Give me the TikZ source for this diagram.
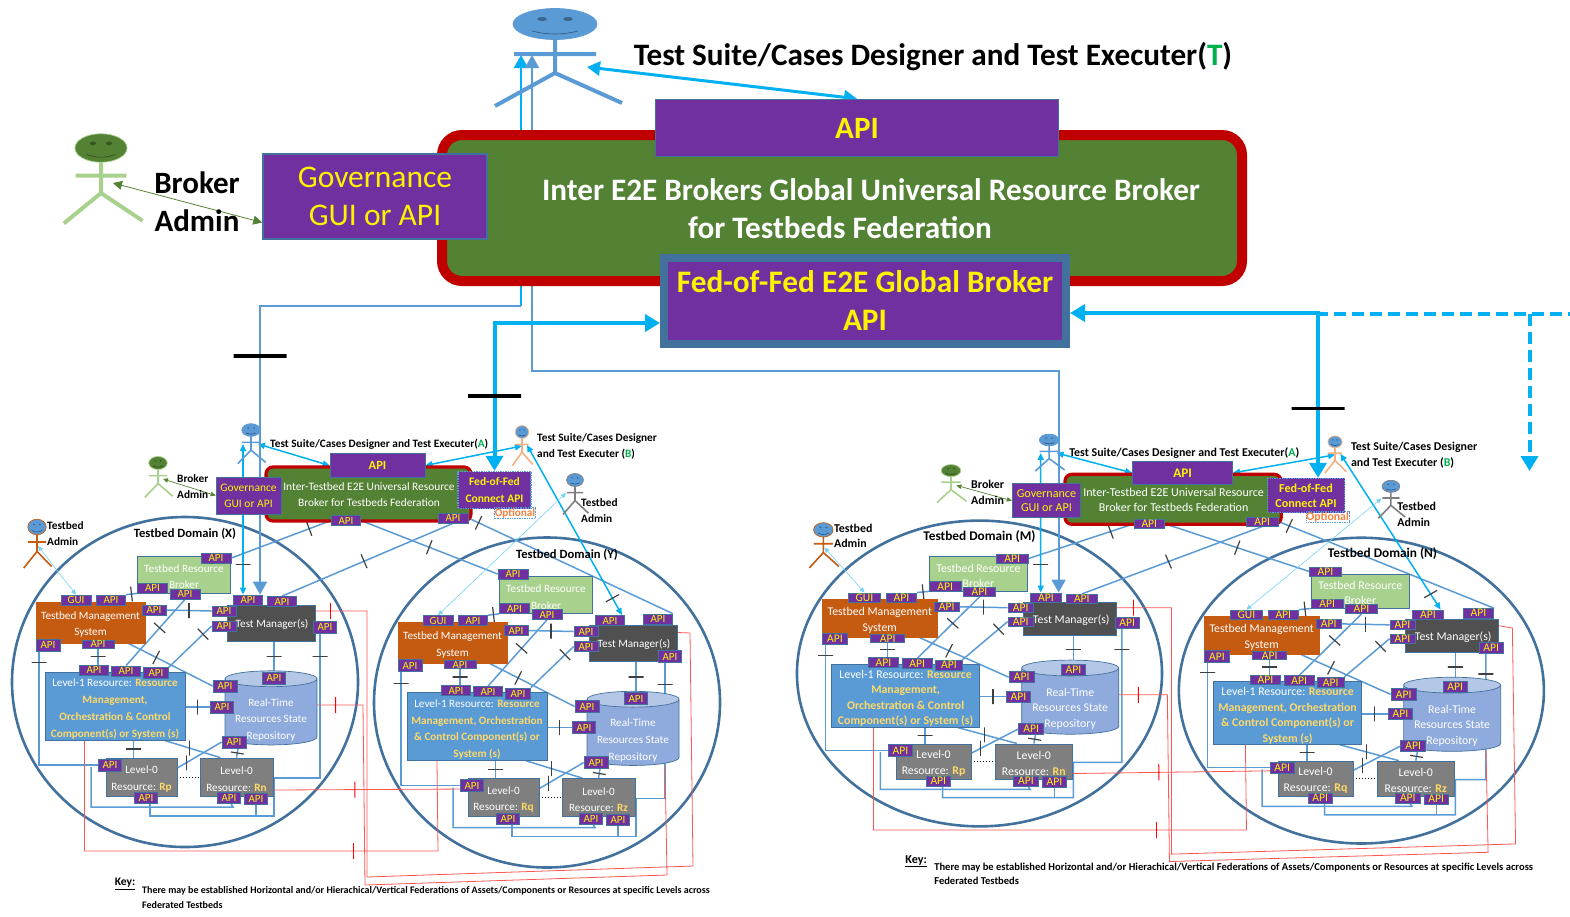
\documentclass[tikz,border=0pt]{standalone}
\usepackage{fontspec}
\setmainfont{Carlito}
\usetikzlibrary{arrows.meta,shapes.geometric}
\pgfdeclarelayer{back}
\pgfsetlayers{back,main}
\definecolor{apipurple}{HTML}{7030A0}
\definecolor{apiedge}{HTML}{41719C}
\definecolor{hostgreen}{HTML}{548235}
\definecolor{hostred}{HTML}{C00000}
\definecolor{feedcyan}{HTML}{00B0F0}
\definecolor{linkblue}{HTML}{5B9BD5}
\definecolor{fedred}{HTML}{FF5555}
\definecolor{tmsorange}{HTML}{C55A11}
\definecolor{tmgrey}{HTML}{505050}
\definecolor{resgrey}{HTML}{7F7F7F}
\definecolor{palegreen}{HTML}{A9D18E}
\definecolor{repobody}{HTML}{8FAADC}
\definecolor{repotop}{HTML}{B4C7E7}
\definecolor{gold}{HTML}{FFD966}
\definecolor{skinorange}{HTML}{F4B183}
\definecolor{markgreen}{HTML}{00B050}
\definecolor{optorange}{HTML}{F4813C}
\def\gx{1}
\def\gy{1}
\newcommand{\sz}[2]{\pgfmathsetmacro\szw{#1*\gx}\pgfmathsetmacro\szh{#2*\gy}\fontsize{\szw}{\szh}\selectfont}
\newcommand{\goldbf}[1]{{\color{gold}\bfseries #1}}
\tikzset{
	tinytip/.tip={Triangle[width=4.5pt,length=5pt]},
	smalltip/.tip={Triangle[width=6pt,length=7pt]},
	greentip/.tip={Triangle[width=9pt,length=9pt]},
	midtip/.tip={Triangle[width=14pt,length=13pt]},
	bigtip/.tip={Triangle[width=17pt,length=15pt]},
	boxed/.style 2 args={rectangle,minimum width=#1pt*\gx,minimum height=#2pt*\gy,inner sep=0pt,align=center},
	tag/.style 2 args={boxed={#1}{#2},fill=apipurple,draw=apiedge,line width=.7pt,text=yellow,font=\sz{11}{12}},
	plain/.style 2 args={boxed={#1}{#2},draw=apiedge,line width=.7pt},
	words/.style={inner sep=0pt,align=center,text=black},
	inbox/.style={words,text=white,font=\sz{11.2}{16.7}},
	link/.style={draw=linkblue,line width=1.5pt},
	redlink/.style={draw=fedred,line width=.8pt},
	paletip/.style={draw=feedcyan!55,line width=.6pt,tinytip-tinytip},
	cyanlink/.style={draw=feedcyan,line width=1.5pt,smalltip-smalltip},
	feed/.style={draw=linkblue,line width=2pt},
	heavyfeed/.style={draw=feedcyan,line width=4pt},
	tick/.style={sloped,draw=black!75,line width=1.2pt,minimum width=0pt,minimum height=15pt,inner sep=0pt,outer sep=0pt},
	vtick/.style={draw=black!75,line width=1.2pt,minimum width=0pt,minimum height=15pt,inner sep=0pt,outer sep=0pt},
	redtick/.style={sloped,draw=red,line width=1pt,minimum width=0pt,minimum height=16pt,inner sep=0pt,outer sep=0pt},
	bigtick/.style={sloped,draw=black,line width=3.5pt,minimum width=0pt,minimum height=53pt,inner sep=0pt,outer sep=0pt},
}
% one stick figure, head at #2
\newcommand{\stickman}[7]{%
	\begin{scope}[shift={#2},xscale=#3,yscale=#4]
		\draw[fill=#5,draw=#6,line width=.7pt] (0,0) ellipse (42 and 15.5);
		\fill[#5!65!black] (-13,-5) ellipse (5 and 2) (13,-5) ellipse (5 and 2);
		\draw[draw=#5!55!black,line width=.6pt] (-23,7) .. controls (-8,11) and (8,11) .. (23,7);
		\draw[draw=#6,line width=#7] (0,15.5) -- (0,49) (-41,30) -- (41,30) (-60,82) -- (0,49) -- (67,79);
	\end{scope}}
% one testbed domain: prefix, shift, letter, two resources, level-1 wording
\newcommand{\testbed}[6]{%
	\begin{scope}[shift={#2}]
		\begin{pgfonlayer}{back}
			\draw[draw=apiedge,line width=2.6pt] (185,682) ellipse (173 and 165);
		\end{pgfonlayer}
		\node[words,font=\bfseries\sz{12.6}{16}] (#1dn) at (\domx,534) {Testbed Domain (#3)};
		\node[plain={93}{37},fill=palegreen] (#1br) at (184,574.5) {};
		\node[inbox] (#1brt) at (184,576.5) {Testbed Resource\\Broker};
		\node[plain={109}{41},fill=tmsorange,draw=tmsorange] (#1tms) at (90.5,622.5) {};
		\node[inbox] (#1tmst) at (90.5,624.5) {Testbed Management\\System};
		\node[plain={88}{36},fill=tmgrey,draw=apiedge] (#1tm) at (271,623) {};
		\node[inbox] (#1tmt) at (272,624) {Test Manager(s)};
		\node[plain={140}{68},fill=linkblue] (#1lv) at (115,706) {};
		\node[inbox] (#1lvt) at (115,709) {#6};
		\node[cylinder,shape border rotate=90,aspect=.22,minimum height=70pt*\gy,minimum width=92pt*\gx,inner sep=0pt,draw=apiedge,line width=.7pt,cylinder uses custom fill,cylinder body fill=repobody,cylinder end fill=repotop] (#1rp) at (271,712) {\phantom{\rule{72pt}{50pt}}};
		\node[inbox] (#1rpt) at (271,720) {Real-Time\\Resources State\\Repository};
		\node[plain={71}{38},fill=resgrey] (#1a) at (141.5,777) {};
		\node[inbox] (#1at) at (141.5,779) {Level-0\\Resource: \goldbf{#4}};
		\node[plain={73}{38},fill=resgrey] (#1z) at (236.5,777) {};
		\node[inbox] (#1zt) at (236.5,779) {Level-0\\Resource: \goldbf{#5}};
		\node[tag={30}{10}] (#1b1) at (\brokertag) {API};
		\node[tag={30}{10}] (#1b2) at (152.5,588) {API};
		\node[tag={30}{10}] (#1b3) at (185,594) {API};
		\node[tag={30}{10}] (#1g) at (76,600) {GUI};
		\node[tag={29}{10}] (#1s1) at (111,600) {API};
		\node[tag={24}{10}] (#1s2) at (154,610) {API};
		\node[tag={24}{12}] (#1s3) at (48,645) {API};
		\node[tag={32}{8}] (#1s4) at (98,644) {API};
		\node[tag={29}{10}] (#1m1) at (248,600) {API};
		\node[tag={29}{10}] (#1m2) at (\mgrtag) {API};
		\node[tag={24}{10}] (#1m3) at (224,611) {API};
		\node[tag={24}{10}] (#1m4) at (224,626) {API};
		\node[tag={23}{12}] (#1m5) at (\mgrside) {API};
		\node[tag={29}{10}] (#1l1) at (94,670) {API};
		\node[tag={29}{10}] (#1l2) at (126,671) {API};
		\node[tag={25}{11}] (#1l3) at (156,673) {API};
		\node[tag={24}{12}] (#1r1) at (225,686) {API};
		\node[tag={23}{12}] (#1r2) at (274,678) {API};
		\node[tag={23}{12}] (#1r3) at (222,707) {API};
		\node[tag={24}{12}] (#1r4) at (234,742) {API};
		\node[tag={23}{12}] (#1a1) at (110,765) {API};
		\node[tag={23}{11}] (#1a2) at (146,798) {API};
		\node[tag={23}{11}] (#1z1) at (229,798) {API};
		\node[tag={23}{11}] (#1z2) at (256,799) {API};
		\coordinate (#1j1) at (274,778);
		\coordinate (#1j2) at (150,816);
		\coordinate (#1j3) at (91,767);
		\coordinate (#1j4) at (233,807);
		\begin{pgfonlayer}{back}
			\draw[link] ([xshift=3.5pt]#1s3.south west) |- node[vtick,rotate=90,pos=.05] (#1k1) {} (#1a1.west);
			\draw[link] (#1s4.south) -- node[tick] (#1k2) {} (#1s4.south |- #1l1.north);
			\draw[link] (#1s2.east) -- node[vtick] (#1k3) {} (#1m3.west);
			\draw[link] (#1s1.north east) -- node[tick] (#1k4) {} (#1b2.south west);
			\draw[link] (#1b3.south) -- node[tick,pos=.43] (#1k5) {} (#1l2.north);
			\draw[link] (#1l3.north east) -- node[tick,pos=.8] (#1k6) {} (#1m4.west);
			\draw[link] ([xshift=-17pt]#1tms.south east) -- node[tick,pos=.33] (#1k7) {} (#1r1.west);
			\draw[link] (#1r2.north |- #1tm.south) -- node[tick] (#1k8) {} (#1r2.north);
			\draw[link] ([xshift=-5pt]#1m5.south) |- node[vtick,rotate=90,pos=.08] (#1k9) {} (#1j1) |- (#1j2) -- ([xshift=4pt]#1a2.south);
			\draw[link] (#1z2.south) -- (#1z2.south |- #1j2);
			\draw[link] (#1j3) |- (#1j4) -- ([xshift=2pt]#1z1.south);
			\draw[link] ([xshift=-8pt]#1a.north |- #1lv.south) -- node[tick] (#1k10) {} ([xshift=-8pt]#1a.north);
			\draw[link] (#1lv.east |- #1r3.west) -- node[vtick] (#1k11) {} (#1r3.west);
			\draw[link] ([xshift=-21pt]#1lv.south east) -- node[vtick,pos=.45] (#1k12) {} ([xshift=-16pt]#1z.north);
			\draw[link] ([yshift=9pt]#1a.east) -- node[vtick,pos=.2] (#1k13) {} (#1r4.west);
			\draw[link] (#1z.north) -- node[tick,minimum height=13pt] (#1k14) {} ([xshift=4pt]#1r4.south);
			\draw[dotted,line width=1pt] (#1a.east) -- (#1z.west);
		\end{pgfonlayer}
	\end{scope}}
% one federated pair of testbeds with its inter-testbed broker
\newcommand{\fedgroup}[8]{%
	\begin{scope}[shift={#3},xscale=#1,yscale=#2]
		\def\gx{#1}\def\gy{#2}
		\def\domx{185}\def\brokertag{216,558}\def\mgrtag{282,601.5}\def\mgrside{325,627}
		\testbed{#5}{(0,0)}{#7}{Rp}{Rn}{Level-1 Resource: \goldbf{Resource}\\\goldbf{Management,}\\\goldbf{Orchestration \& Control}\\\goldbf{Component(s) or System (s)}}
		\def\domx{205}\def\brokertag{151,553.5}\def\mgrtag{296,598.5}\def\mgrside{308,636}
		\testbed{#6}{(\rightshift)}{#8}{Rq}{Rz}{Level-1 Resource: \goldbf{Resource}\\\goldbf{Management, Orchestration}\\\goldbf{\& Control Component(s) or}\\\goldbf{System (s)}}
		\node[boxed={205}{54},rounded corners=7pt,fill=hostgreen,draw=hostred,line width=3.2pt] (#4ib) at (368.5,494) {};
		\node[words,text=white,font=\sz{11.4}{16.7}] (#4it) at (369,494.5) {Inter-Testbed E2E Universal Resource\\Broker for Testbeds Federation};
		\node[boxed={95}{24},fill=apipurple,draw=apiedge,line width=.7pt,text=yellow,font=\bfseries\sz{12.5}{15}] (#4tt) at (377.5,465.5) {API};
		\node[boxed={65}{37},fill=apipurple,draw=apiedge,line width=.7pt,text=yellow,font=\sz{11.5}{16}] (#4gv) at (248.5,495.5) {Governance\\GUI or API};
		\node[boxed={73}{37},fill=apipurple,draw=linkblue,densely dotted,line width=1.4pt,text=yellow,font=\bfseries\sz{11.5}{16.5}] (#4ff) at (494.5,490) {Fed-of-Fed\\Connect API};
		\node[boxed={40}{11},draw=linkblue,densely dotted,line width=.7pt,text=optorange,font=\bfseries\sz{11.2}{12}] (#4op) at (515,513) {Optional};
		\node[tag={29}{10}] (#4ia) at (346,520.5) {API};
		\node[tag={30}{10}] (#4ic) at (453,518) {API};
		\node[words,anchor=west,font=\bfseries\sz{11.3}{14}] (#4tsa) at (270,444) {Test Suite/Cases Designer and Test Executer({\color{markgreen}A})};
		\node[words,anchor=west,align=left,font=\bfseries\sz{11.3}{16.7}] (#4tsb) at (537,446.5) {Test Suite/Cases Designer\\and Test Executer ({\color{markgreen}B})};
		\node[words,anchor=west,align=left,font=\bfseries\sz{11.3}{16.7}] (#4bad) at (177,486.5) {Broker\\Admin};
		\node[words,anchor=west,align=left,font=\bfseries\sz{11.3}{16.7}] (#4tax) at (47,533.5) {Testbed\\Admin};
		\node[words,anchor=west,align=left,font=\bfseries\sz{11.3}{16.7}] (#4tay) at (581,510.5) {Testbed\\Admin};
		\node[words,anchor=north,font=\bfseries\sz{11.5}{13}] (#4key) at (125,878) {\underline{Key:}};
		\node[words,anchor=north west,align=left,font=\bfseries\sz{10}{15}] (#4nt) at (142,886) {There may be established Horizontal and/or Hierachical/Vertical Federations of Assets/Components or Resources at specific Levels across\\Federated Testbeds};
		\stickman{#4pa}{(251,430)}{.22}{.41}{linkblue}{linkblue}{1.6pt}
		\stickman{#4pg}{(158,463)}{.22}{.42}{hostgreen}{palegreen}{1.6pt}
		\stickman{#4po}{(37,527)}{.22}{.5}{linkblue}{tmsorange}{1.6pt}
		\stickman{#4pb}{(522,432)}{.16}{.41}{linkblue}{skinorange}{1.6pt}
		\stickman{#4pk}{(575,480)}{.2}{.42}{linkblue}{resgrey}{1.6pt}
		\coordinate (#4ca) at (258,444);
		\coordinate (#4cb) at (522,446);
		\coordinate (#4cc) at (527,445);
		\coordinate (#4cd) at (163,479);
		\coordinate (#4ce) at (38,546);
		\coordinate (#4cf) at (566,493);
		\coordinate (#4cg) at (243,444);
		\coordinate (#5feed) at ([xshift=12pt]#5m1.north);
		\coordinate (#4r1) at (367,877);
		\coordinate (#4r2) at (693,866);
		\coordinate (#4r3) at (690,633);
		\coordinate (#4r4) at (363,705);
		\coordinate (#4r5) at (365,885);
		\coordinate (#4r6) at (667,875);
		\coordinate (#4r7) at (665,765);
		\coordinate (#4r9) at (438,851);
		\begin{pgfonlayer}{back}
			\draw[link] (#4ia.west) -- node[tick,pos=.22] (#4k1) {} (#5b1.east);
			\draw[link] (#4ia.east) -- node[tick,pos=.5] (#4k2) {} (#6b1.west);
			\draw[link] (#4ic.south) -- node[tick,pos=.52] (#4k3) {} (#5m2.north);
			\draw[link] (#4ic.east) -- node[tick,pos=.05] (#4k4) {} (#6m2.north east);
			\draw[cyanlink] (#4ca) -- (#4tt.west);
			\draw[cyanlink] (#4cb) -- (#4tt.east);
			\draw[cyanlink] (#4cc) -- node[tick,pos=.9] (#4k5) {} ([xshift=12pt]#6m1.north);
			\draw[cyanlink] (#4cg) -- node[vtick,rotate=90,pos=.8] (#4k6) {} ([xshift=-5pt]#5m1.north);
			\draw[draw=hostgreen,line width=.7pt,tinytip-tinytip] (#4cd) -- (#4gv.west);
			\draw[paletip] (#4ce) -- (#5g.north);
			\draw[paletip] (#4cf) -- (#6g.north);
			\draw[redlink] ([yshift=12pt]#5tm.east) -| node[redtick,pos=.15] (#4k7) {} (#4r1) -- (#4r2) -- (#4r3) -- ([yshift=11pt]#6tm.east);
			\draw[redlink] ([yshift=7pt]#5rp.east) -- node[redtick,pos=.4] (#4k8) {} (#4r4) -- (#4r5) -- (#4r6) -- (#4r7);
			\draw[redlink] ([yshift=-13pt]#5z.east) -- node[redtick,pos=.42] (#4k9) {} ([yshift=8.5pt]#6a.west);
			\draw[redlink] ([xshift=-30.5pt]#5lv.south) |- node[redtick,pos=.88] (#4k10) {} (#4r9) -- ([xshift=-40pt]#6lv.south);
		\end{pgfonlayer}
	\end{scope}}
\begin{document}
\begin{tikzpicture}[x=1pt,y=-1pt]
	\useasboundingbox (0,0) rectangle (1570,916);
	\node[boxed={800}{146},rounded corners=20pt,fill=hostgreen,draw=hostred,line width=10pt] (gbroker) at (842,208) {};
	\node[words,text=white,font=\bfseries\sz{31.2}{38}] (gtitle) at (871,189.5) {Inter E2E Brokers Global Universal Resource Broker};
	\node[words,text=white,font=\bfseries\sz{31.2}{38}] (gtitleb) at (840,227.5) {for Testbeds Federation};
	\node[boxed={403}{57},fill=apipurple,draw=apiedge,line width=1.5pt,text=yellow,font=\bfseries\sz{31}{38}] (gapi) at (857,128) {API};
	\node[boxed={224}{85},fill=apipurple,draw=apiedge,line width=1.5pt,text=yellow,font=\sz{31.5}{38}] (ggov) at (375,196.5) {Governance\\GUI or API};
	\node[boxed={402}{86},fill=apipurple,draw=apiedge,line width=8pt,text=yellow,font=\bfseries\sz{31.3}{38}] (gfed) at (865,301) {Fed-of-Fed E2E Global Broker\\API};
	\node[words,font=\bfseries\sz{31.2}{36}] (gtest) at (933,56.5) {Test Suite/Cases Designer and Test Executer({\color{markgreen}T})};
	\node[words,font=\bfseries\sz{31}{38}] (gadmin) at (197,202) {Broker\\Admin};
	\stickman{gman}{(555,24)}{1}{1}{linkblue}{linkblue}{4pt}
	\stickman{gadm}{(101,148)}{.62}{.92}{hostgreen}{palegreen}{4pt}
	\coordinate (gmanside) at (587,67);
	\coordinate (gadmside) at (113,183);
	\coordinate (armleft) at (521,55);
	\coordinate (armright) at (532,55);
	\coordinate (kinkleft) at (521,306);
	\coordinate (kinkright) at (532,371);
	\def\rightshift{362,20.5}
	\fedgroup{1}{1}{(0,0)}{p}{x}{y}{X}{Y}
	\def\rightshift{362,18.5}
	\fedgroup{1.055}{.9265}{(784.3,41.6)}{q}{m}{n}{M}{N}
	\coordinate (dashjoin) at (1316,314);
	\coordinate (dashturn) at (1529.5,314);
	\coordinate (dashoff) at (1570,314);
	\coordinate (dashend) at (1529.5,471);
	\begin{pgfonlayer}{back}
		\draw[draw=feedcyan,line width=3pt,midtip-midtip] (gmanside) -- (gapi.north);
		\draw[draw=hostgreen,line width=.8pt,greentip-greentip] (gadmside) -- ([yshift=-26pt]ggov.west);
		\draw[draw=feedcyan,line width=2pt,midtip-] (armleft) -- (kinkleft);
		\draw[feed,-midtip] (kinkleft) -| node[bigtick,pos=.587] (tickx) {} (xfeed);
		\draw[feed,midtip-midtip] (armright) -- (kinkright) -| (mfeed);
		\draw[heavyfeed,bigtip-bigtip] ([yshift=-22pt]gfed.west) -| node[bigtick,pos=.747] (ticky) {} (pff.north);
		\draw[heavyfeed,bigtip-bigtip] ([yshift=-12pt]gfed.east) -| node[bigtick,pos=.79] (tickn) {} ([xshift=12pt]qff.north);
		\draw[heavyfeed,dash pattern=on 12pt off 6pt] (dashjoin) -- (dashoff);
		\draw[heavyfeed,dash pattern=on 12pt off 6pt,-bigtip] (dashturn) -- (dashend);
	\end{pgfonlayer}
\end{tikzpicture}
\end{document}
